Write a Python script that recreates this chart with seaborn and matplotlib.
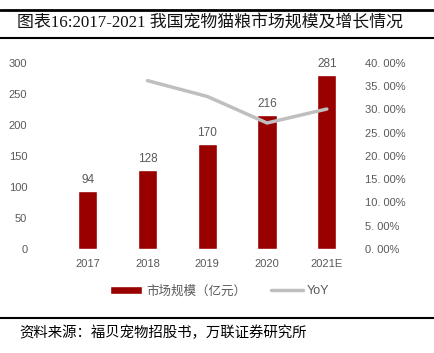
import numpy as np
import pandas as pd
import matplotlib
matplotlib.use('Agg')
import matplotlib.pyplot as plt
from matplotlib.lines import Line2D
from matplotlib.patches import Patch
import seaborn as sns

years = ['2017', '2018', '2019', '2020', '2021E']
market_size = [94, 128, 170, 216, 281]
yoy = [None, 0.362, 0.328, 0.271, 0.301]
left_ticks = [0, 50, 100, 150, 200, 250, 300]
right_ticks = [0.0, 0.05, 0.10, 0.15, 0.20, 0.25, 0.30, 0.35, 0.40]

bar_color = '#990000'
line_color = '#BFBFBF'
text_color = '#595959'

sns.set_style('white')
plt.rcParams['font.family'] = ['Liberation Sans', 'Noto Sans CJK SC', 'DejaVu Sans']

df = pd.DataFrame({'year': years, 'size': market_size, 'yoy': yoy})

fig = plt.figure(figsize=(4.35, 3.53), dpi=100)
ax = fig.add_axes([0.133, 0.2946, 0.687, 0.527])
sns.barplot(data=df, x='year', y='size', color=bar_color, width=0.32,
            saturation=1, ax=ax)
ax.set_ylim(0, 300)
ax.set_yticks(left_ticks)
ax.set_xlabel('')
ax.set_ylabel('')
for i, v in enumerate(market_size):
    ax.text(i, v + 8, f'{v}', ha='center', va='bottom', fontsize=8.5, color=text_color)
ax.tick_params(axis='both', labelsize=8, colors=text_color, length=0)
ax.tick_params(axis='y', pad=22)
ax.tick_params(axis='x', pad=7)
for s in ax.spines.values():
    s.set_visible(False)

ax2 = ax.twinx()
line_df = df.dropna().copy()
line_df['pos'] = [years.index(y) for y in line_df['year']]
sns.lineplot(data=line_df, x='pos', y='yoy', color=line_color, linewidth=2.5, ax=ax2)
ax2.set_ylim(0, 0.40)
ax2.set_yticks(right_ticks)
ax2.set_yticklabels([f'{t * 100:.0f}. 00%' for t in right_ticks])
ax2.set_ylabel('')
ax2.set_xlabel('')
ax2.tick_params(axis='y', labelsize=8, colors=text_color, length=0, pad=6)
for s in ax2.spines.values():
    s.set_visible(False)
ax.set_xlim(-0.5, len(years) - 0.5)

handles = [Patch(facecolor=bar_color), Line2D([0], [0], color=line_color, lw=2.5)]
fig.legend(handles, ['市场规模（亿元）', 'YoY'], loc='center', bbox_to_anchor=(0.505, 0.175),
           ncol=2, frameon=False, fontsize=9, labelcolor=text_color,
           handlelength=2.6, handleheight=0.55, columnspacing=2.0, handletextpad=0.3)

# header / footer rules
fig.add_artist(Line2D([0, 1], [1 - 10 / 353, 1 - 10 / 353], color='black', lw=2))
fig.add_artist(Line2D([0, 1], [1 - 38 / 353, 1 - 38 / 353], color='black', lw=1.5))
fig.add_artist(Line2D([0, 1], [1 - 318 / 353, 1 - 318 / 353], color='black', lw=1.5))

fig.text(0.04, 1 - 23 / 353, '图表16:2017-2021 我国宠物猫粮市场规模及增长情况',
         fontsize=12.2, va='center', ha='left', color='#111111', fontweight='light',
         family=['Liberation Serif', 'Noto Sans CJK SC'])
fig.text(0.045, 1 - 333 / 353, '资料来源：福贝宠物招股书，万联证券研究所',
         fontsize=10.4, va='center', ha='left', color='black', fontweight='light',
         family=['Noto Sans CJK SC', 'DejaVu Sans'])

fig.savefig('out.png', dpi=100)
